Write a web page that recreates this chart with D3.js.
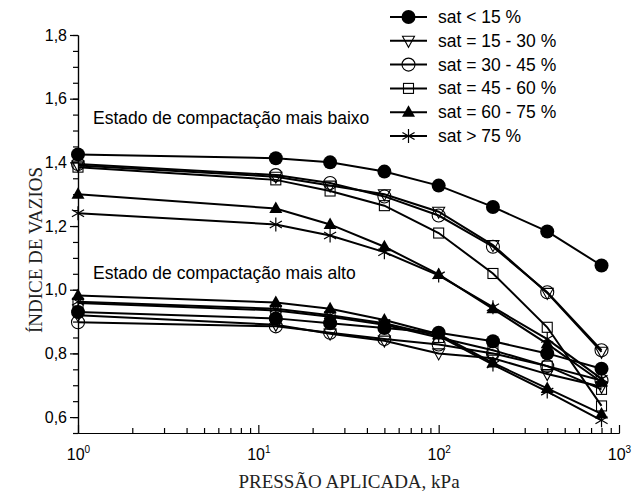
<!DOCTYPE html>
<html><head><meta charset="utf-8">
<script src="https://cdn.jsdelivr.net/npm/d3@7"></script>
<style>body{margin:0;background:#fff}svg{display:block}</style>
</head><body>
<svg id="c" width="639" height="494"></svg>
<script>
// ---- data ----
const pressures = [1, 12.5, 25, 50, 100, 200, 400, 800];
const satLabels = ["sat < 15 %", "sat = 15 - 30 %", "sat = 30 - 45 %", "sat = 45 - 60 %", "sat = 60 - 75 %", "sat > 75 %"];
const markerTypes = ["fcircle", "tridown", "circle", "square", "ftri", "star"];
// loose state (Estado de compactação mais baixo)
const looseSat0015 = [1.425, 1.413, 1.400, 1.371, 1.327, 1.260, 1.183, 1.076];
const looseSat1530 = [1.390, 1.355, 1.327, 1.300, 1.245, 1.140, 0.990, 0.805];
const looseSat3045 = [1.395, 1.360, 1.335, 1.293, 1.233, 1.135, 0.992, 0.810];
const looseSat4560 = [1.385, 1.345, 1.310, 1.264, 1.178, 1.051, 0.882, 0.635];
const looseSat6075 = [1.300, 1.255, 1.205, 1.135, 1.048, 0.940, 0.830, 0.710];
const looseSat75up = [1.240, 1.205, 1.170, 1.118, 1.045, 0.945, 0.845, 0.720];
// dense state (Estado de compactação mais alto)
const denseSat0015 = [0.930, 0.910, 0.895, 0.880, 0.865, 0.838, 0.800, 0.752];
const denseSat1530 = [0.920, 0.890, 0.862, 0.840, 0.800, 0.785, 0.735, 0.695];
const denseSat3045 = [0.898, 0.885, 0.865, 0.845, 0.828, 0.800, 0.760, 0.715];
const denseSat4560 = [0.958, 0.935, 0.915, 0.890, 0.850, 0.810, 0.760, 0.687];
const denseSat6075 = [0.982, 0.960, 0.940, 0.905, 0.860, 0.770, 0.690, 0.610];
const denseSat75up = [0.962, 0.940, 0.920, 0.895, 0.855, 0.765, 0.680, 0.590];
const yTickValues = [0.6, 0.8, 1.0, 1.2, 1.4, 1.6, 1.8];
const xTickExponents = [0, 1, 2, 3];

const series = [
  {m: 0, v: looseSat0015}, {m: 1, v: looseSat1530}, {m: 2, v: looseSat3045},
  {m: 3, v: looseSat4560}, {m: 4, v: looseSat6075}, {m: 5, v: looseSat75up},
  {m: 0, v: denseSat0015}, {m: 1, v: denseSat1530}, {m: 2, v: denseSat3045},
  {m: 3, v: denseSat4560}, {m: 4, v: denseSat6075}, {m: 5, v: denseSat75up}
];

// ---- layout ----
const svg = d3.select("#c");
const x = d3.scaleLog().domain([1, 1000]).range([78, 619]);
const y = d3.scaleLinear().domain([0.55, 1.8]).range([433, 35]);
const sans = "'Liberation Sans', Arial, sans-serif";
const serif = "'Liberation Serif', 'Times New Roman', serif";

function drawMarker(g, type, cx, cy) {
  const s = g.append("g").attr("transform", `translate(${cx},${cy})`);
  if (type === "fcircle") s.append("circle").attr("r", 7).attr("fill", "#000");
  else if (type === "circle") s.append("circle").attr("r", 6.5).attr("fill", "none").attr("stroke", "#000").attr("stroke-width", 1.1);
  else if (type === "square") s.append("rect").attr("x", -5).attr("y", -5).attr("width", 10).attr("height", 10).attr("fill", "none").attr("stroke", "#000").attr("stroke-width", 1.1);
  else if (type === "tridown") s.append("path").attr("d", "M-6,-4.5L6,-4.5L0,6.5Z").attr("fill", "none").attr("stroke", "#000").attr("stroke-width", 1.1);
  else if (type === "ftri") s.append("path").attr("d", "M0,-7L6.5,4.5L-6.5,4.5Z").attr("fill", "#000");
  else if (type === "star") {
    const r = 7;
    [90, 30, -30].forEach(a => {
      const rad = a * Math.PI / 180;
      s.append("line").attr("x1", -r * Math.cos(rad)).attr("y1", -r * Math.sin(rad))
        .attr("x2", r * Math.cos(rad)).attr("y2", r * Math.sin(rad))
        .attr("stroke", "#000").attr("stroke-width", 1.2);
    });
  }
}

// axes
const yMajor = d3.axisLeft(y).tickValues(yTickValues).tickSize(8).tickSizeOuter(0)
  .tickFormat(d => d3.format(".1f")(d).replace(".", ","));
const yMinorVals = d3.range(0, 26).map(i => +(0.55 + i * 0.05).toFixed(2)).filter(v => v <= 1.8);
const yMinor = d3.axisLeft(y).tickValues(yMinorVals).tickSize(5).tickSizeOuter(0).tickFormat("");
const gy2 = svg.append("g").attr("transform", "translate(78,0)").call(yMinor);
const gy = svg.append("g").attr("transform", "translate(78,0)").call(yMajor);
[gy, gy2].forEach(g => {
  g.selectAll("path,line").attr("stroke", "#000").attr("stroke-width", 1.2);
});
gy.selectAll("text").attr("font-family", sans).attr("font-size", 16).attr("fill", "#000").attr("x", -11);

const xMinorVals = [];
for (let e = 0; e < 3; e++) for (let k = 2; k <= 9; k++) xMinorVals.push(k * Math.pow(10, e));
const xMajorVals = xTickExponents.map(e => Math.pow(10, e));
const gx2 = svg.append("g").attr("transform", "translate(0,433)")
  .call(d3.axisBottom(x).tickValues(xMinorVals).tickSize(-5).tickSizeOuter(0).tickFormat(""));
const gx = svg.append("g").attr("transform", "translate(0,433)")
  .call(d3.axisBottom(x).tickValues(xMajorVals).tickSize(-8).tickSizeOuter(0).tickFormat(""));
[gx, gx2].forEach(g => g.selectAll("path,line").attr("stroke", "#000").attr("stroke-width", 1.2));
gx.selectAll(".tick").each(function(d, i) {
  const t = d3.select(this).append("text").attr("y", 27).attr("fill", "#000")
    .attr("font-family", sans).attr("font-size", 16).attr("text-anchor", "middle");
  t.append("tspan").text("10");
  t.append("tspan").attr("dy", -7).attr("font-size", 10).text(String(xTickExponents[i]));
});

// axis titles
svg.append("text").attr("x", 349).attr("y", 488).attr("text-anchor", "middle")
  .attr("font-family", serif).attr("font-size", 19).attr("fill", "#222").text("PRESSÃO APLICADA, kPa");
svg.append("text").attr("transform", "translate(42,250) rotate(-90)").attr("text-anchor", "middle")
  .attr("font-family", serif).attr("font-size", 19).attr("fill", "#222").text("ÍNDICE DE VAZIOS");

// annotations
svg.append("text").attr("x", 93).attr("y", 124).attr("font-family", sans).attr("font-size", 17.5)
  .attr("fill", "#000").text("Estado de compactação mais baixo");
svg.append("text").attr("x", 93).attr("y", 279).attr("font-family", sans).attr("font-size", 17.5)
  .attr("fill", "#000").text("Estado de compactação mais alto");

// series
const line = d3.line().x((d, i) => x(pressures[i])).y(d => y(d));
const gs = svg.append("g");
series.forEach(s => {
  gs.append("path").datum(s.v).attr("d", line).attr("fill", "none").attr("stroke", "#000").attr("stroke-width", 2);
});
series.forEach(s => {
  s.v.forEach((v, i) => drawMarker(gs, markerTypes[s.m], x(pressures[i]), y(v)));
});

// legend
const lg = svg.append("g");
satLabels.forEach((lab, i) => {
  const yy = 17 + i * 23.8;
  lg.append("line").attr("x1", 390).attr("x2", 427).attr("y1", yy).attr("y2", yy).attr("stroke", "#000").attr("stroke-width", 2);
  drawMarker(lg, markerTypes[i], 408.5, yy);
  lg.append("text").attr("x", 438).attr("y", yy + 6).attr("font-family", sans).attr("font-size", 17.5)
    .attr("fill", "#000").text(lab);
});
</script>
</body></html>
